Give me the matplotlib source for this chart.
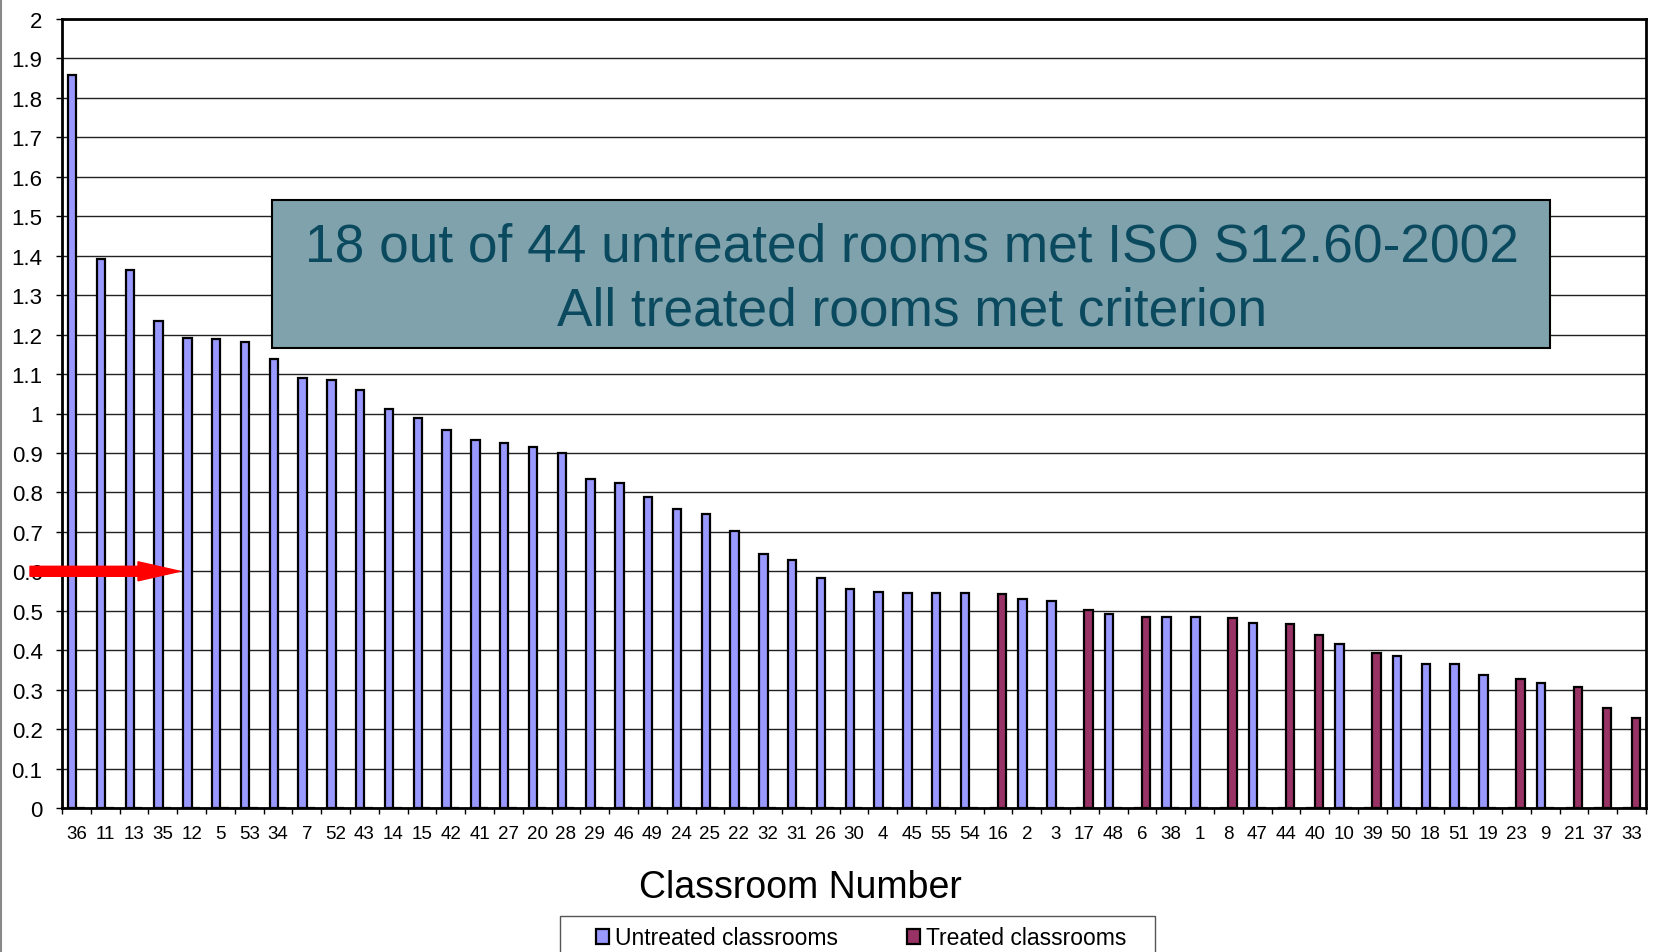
import matplotlib
matplotlib.use("Agg")
import matplotlib.pyplot as plt
import numpy as np
from matplotlib.patches import Rectangle, FancyArrow
from matplotlib.lines import Line2D

plt.rcParams['font.family'] = ['Liberation Sans', 'DejaVu Sans']

classrooms = ["36", "11", "13", "35", "12", "5", "53", "34", "7", "52",
              "43", "14", "15", "42", "41", "27", "20", "28", "29", "46",
              "49", "24", "25", "22", "32", "31", "26", "30", "4", "45",
              "55", "54", "16", "2", "3", "17", "48", "6", "38", "1",
              "8", "47", "44", "40", "10", "39", "50", "18", "51", "19",
              "23", "9", "21", "37", "33"]
treated_rooms = ["16", "17", "6", "8", "44", "40", "39", "23", "21", "37", "33"]
values = [1.858, 1.392, 1.364, 1.234, 1.191, 1.189, 1.180, 1.139, 1.091, 1.086,
          1.060, 1.011, 0.988, 0.958, 0.932, 0.924, 0.914, 0.900, 0.834, 0.823,
          0.789, 0.758, 0.744, 0.701, 0.644, 0.628, 0.584, 0.556, 0.548, 0.546,
          0.545, 0.545, 0.543, 0.530, 0.525, 0.501, 0.492, 0.485, 0.483, 0.483,
          0.482, 0.468, 0.466, 0.438, 0.415, 0.393, 0.385, 0.364, 0.364, 0.337,
          0.327, 0.318, 0.306, 0.253, 0.229]
yticks = [0, 0.1, 0.2, 0.3, 0.4, 0.5, 0.6, 0.7, 0.8, 0.9, 1, 1.1, 1.2, 1.3,
          1.4, 1.5, 1.6, 1.7, 1.8, 1.9, 2]
ytick_labels = ["0", "0.1", "0.2", "0.3", "0.4", "0.5", "0.6", "0.7", "0.8", "0.9",
                "1", "1.1", "1.2", "1.3", "1.4", "1.5", "1.6", "1.7", "1.8", "1.9", "2"]
criterion = 0.6

untreated_vals = [0 if c in treated_rooms else v for c, v in zip(classrooms, values)]
treated_vals = [v if c in treated_rooms else 0 for c, v in zip(classrooms, values)]

fig = plt.figure(figsize=(16.56, 9.53), dpi=100)
ax = fig.add_axes([62/1656, 1-809/953, (1646-62)/1656, (809-20)/953])

x = np.arange(len(classrooms))
w = 0.295
ax.bar(x - w/2, untreated_vals, width=w, color='#9999FF', edgecolor='black',
       linewidth=1.6, zorder=3, label='Untreated classrooms')
ax.bar(x + w/2, treated_vals, width=w, color='#993366', edgecolor='black',
       linewidth=1.6, zorder=3, label='Treated classrooms')

ax.set_xlim(-0.5, len(classrooms) - 0.5)
ax.set_ylim(0, 2)
ax.set_yticks(yticks)
ax.set_yticklabels(ytick_labels, fontsize=16)
ax.tick_params(axis='y', direction='out', length=4, width=1, pad=10)
ax.yaxis.grid(True, color='#222222', linewidth=1.0, zorder=0)
ax.set_axisbelow(True)

ax.set_xticks(np.arange(-0.5, len(classrooms), 1.0))
ax.set_xticklabels([])
ax.set_xticks(x, minor=True)
ax.set_xticklabels(classrooms, minor=True, fontsize=13.5)
ax.tick_params(axis='x', which='major', direction='out', length=4, width=1)
ax.tick_params(axis='x', which='minor', length=0, pad=12)

for s in ax.spines.values():
    s.set_color('black')
    s.set_linewidth(2.0)

# Annotation box
ax.add_patch(Rectangle((0.1326, 0.5830), 0.9394-0.1326, 0.7706-0.5830,
                       transform=ax.transAxes, facecolor='#7FA2AC',
                       edgecolor='black', linewidth=1.5, zorder=5))
ax.text(0.5366, 0.6940, "18 out of 44 untreated rooms met ISO S12.60-2002",
        transform=ax.transAxes, ha='center', va='baseline', fontsize=38.3,
        color='#0B4A5E', zorder=6)
ax.text(0.5366, 0.6126, "All treated rooms met criterion",
        transform=ax.transAxes, ha='center', va='baseline', fontsize=38.3,
        color='#0B4A5E', zorder=6)

# Red arrow at criterion
x0 = (30 - 62) / 28.8 - 0.5
x1 = (180 - 62) / 28.8 - 0.5
hl = 42 / 28.8
arrow = FancyArrow(x0, criterion, x1 - x0, 0, width=10/394.5, head_width=19/394.5,
                   head_length=hl, length_includes_head=True, color='#FF0000',
                   clip_on=False, zorder=10)
ax.add_patch(arrow)

fig.text(800/1656, 1-898/953, "Classroom Number", ha='center', va='baseline',
         fontsize=27)

# Legend frame (drawn manually, cut by the figure's bottom edge)
fig.add_artist(Rectangle((560/1656, -0.02), (1155-560)/1656, 0.02 + (1-917/953),
                         transform=fig.transFigure, facecolor='white',
                         edgecolor='#555555', linewidth=1.0, zorder=1))
leg = fig.legend(loc='center left', bbox_to_anchor=(596/1656, 1-939/953),
                 ncol=2, fontsize=16.5, frameon=False,
                 handlelength=0.58, handleheight=0.58,
                 handletextpad=0.25, columnspacing=3.0, borderpad=0,
                 borderaxespad=0)
leg.set_zorder(2)

fig.add_artist(Line2D([0.0009, 0.0009], [0, 1], transform=fig.transFigure,
                      color='#888888', linewidth=1.5))

fig.savefig("out.png", dpi=100)
